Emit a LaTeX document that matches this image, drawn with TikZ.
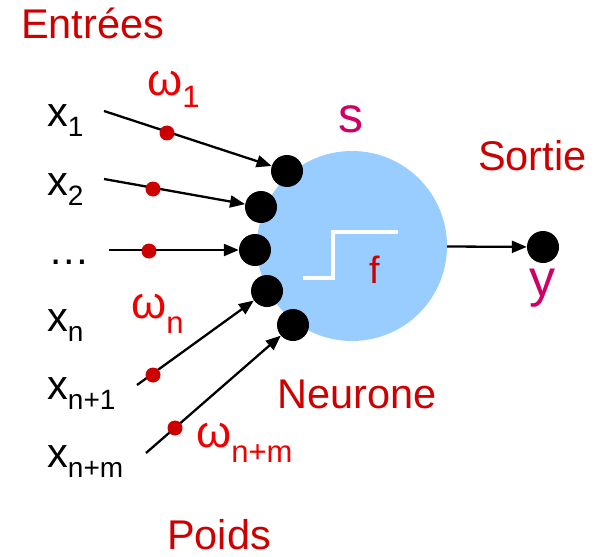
\documentclass[tikz,border=0pt]{standalone}
\usepackage{fontspec}
\setmainfont{Liberation Sans}
\usetikzlibrary{arrows.meta}
\definecolor{dred}{HTML}{CC0000}
\definecolor{bred}{HTML}{EE0000}
\definecolor{mag}{HTML}{CC0066}
\definecolor{nblue}{HTML}{99CCFF}
\newcommand\myfs[1]{\fontsize{#1}{#1}\selectfont}
\newcommand\mysub[2]{\raisebox{-#1}{\myfs{28}#2}}
\newcommand\omsub[2]{{\myfs{45}ω}\raisebox{-#1}{\myfs{31}#2}}
\begin{document}
\begin{tikzpicture}[x=1pt,y=-1pt,
  lbl/.style={inner sep=0, anchor=base west, font=\myfs{41.5}},
  bigdot/.style={circle, fill=black, minimum size=32pt, inner sep=0},
  wdot/.style={circle, fill=dred, minimum size=15pt, inner sep=0},
  conn/.style={line width=2.3pt, -{Triangle[length=15pt,width=12pt]}},
  stepline/.style={white, line width=3.5pt}]
\useasboundingbox (0,0) rectangle (601,556);
% neuron body
\node[circle, fill=nblue, minimum size=190pt, inner sep=0] (neuron) at (352,246) {};
\draw[stepline] (303,278) -- (333,278) -- (333,232) -- (398,232);
% input dots
\node[bigdot] (d1) at (287,171) {};
\node[bigdot] (d2) at (261,207) {};
\node[bigdot] (d3) at (255,250) {};
\node[bigdot] (d4) at (267,291) {};
\node[bigdot] (d5) at (293,325) {};
\node[bigdot] (dy) at (543,247) {};
% free ends
\coordinate (s1) at (104,111);
\coordinate (s2) at (104,179);
\coordinate (s3) at (109,250);
\coordinate (s4) at (137,385);
\coordinate (s5) at (146,453);
\draw[conn] (s1) -- (d1);
\draw[conn] (s2) -- (d2);
\draw[conn] (s3) -- (d3);
\draw[conn] (s4) -- (d4);
\draw[conn] (s5) -- (d5);
\draw[conn] (neuron) -- (dy);
% weight dots
\node[wdot] (w1) at (167,133) {};
\node[wdot] (w2) at (153,189) {};
\node[wdot] (w3) at (149,251) {};
\node[wdot] (w4) at (153,375) {};
\node[wdot] (w5) at (175,428) {};
% labels
\node[lbl, text=dred] (entrees) at (21,39) {Entrées};
\node[lbl] (x1) at (47,127) {x\mysub{10pt}{1}};
\node[lbl] (x2) at (47,195) {x\mysub{10pt}{2}};
\node[lbl] (xd) at (48,264) {…};
\node[lbl] (xn) at (47,331) {x\mysub{10pt}{n}};
\node[lbl] (xn1) at (47,399) {x\mysub{10pt}{n+1}};
\node[lbl] (xnm) at (47,467) {x\mysub{10pt}{n+m}};
\node[lbl, text=bred] (om1) at (147,96) {\omsub{12pt}{1}};
\node[lbl, text=bred] (omn) at (131,318) {\omsub{15pt}{n}};
\node[lbl, text=bred] (omnm) at (196,447) {\omsub{15pt}{n+m}};
\node[lbl, text=mag, font=\myfs{50}] (s) at (338,133) {s};
\node[lbl, text=dred] (sortie) at (478,170) {Sortie};
\node[lbl, text=mag, font=\myfs{52}] (y) at (529,296) {y};
\node[lbl, text=dred, font=\myfs{38}] (f) at (369,283) {f};
\node[lbl, text=dred] (neurone) at (277,408) {Neurone};
\node[lbl, text=dred] (poids) at (167,549) {Poids};
\end{tikzpicture}
\end{document}
